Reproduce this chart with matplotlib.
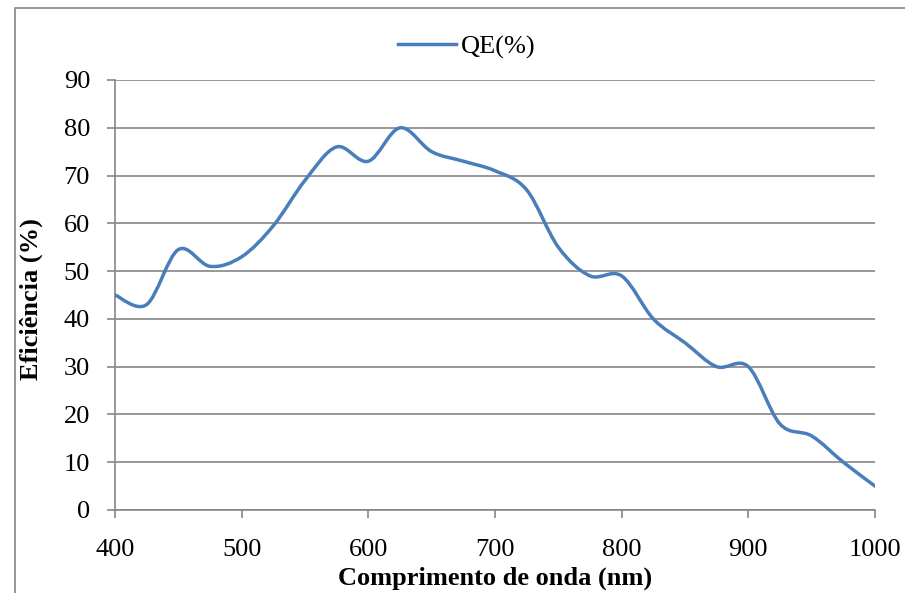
import numpy as np
import matplotlib
matplotlib.use("Agg")
import matplotlib.pyplot as plt
from matplotlib.path import Path
from matplotlib.patches import PathPatch, Rectangle
from matplotlib.lines import Line2D

wavelength = [400, 425, 450, 475, 500, 525, 550, 575, 600, 625, 650, 675, 700,
              725, 750, 775, 800, 825, 850, 875, 900, 925, 950, 975, 1000]
qe = [45, 43, 54.5, 51, 53, 59.5, 69, 76, 73, 80, 75, 73, 71,
      67, 55, 49, 49, 40, 35, 30, 30, 18, 15.5, 10, 5]
series_name = "QE(%)"
xlabel = "Comprimento de onda (nm)"
ylabel = "Eficiência (%)"
xticks = [400, 500, 600, 700, 800, 900, 1000]
yticks = list(range(0, 91, 10))

plt.rcParams['font.family'] = ['Liberation Serif', 'DejaVu Serif']

W, H = 905, 593
fig = plt.figure(figsize=(W / 100, H / 100), dpi=100)
ax = fig.add_axes([115 / W, 1 - 510 / H, (875 - 115) / W, (510 - 80) / H])

color = '#4A7EBB'
grid_c = '#868686'

# Excel-like smoothed line: cubic Bezier with Catmull-Rom tangents
x = np.asarray(wavelength, float)
y = np.asarray(qe, float)
n = len(x)
verts = [(x[0], y[0])]
codes = [Path.MOVETO]
t = 1 / 6
for i in range(n - 1):
    p0 = (x[max(i - 1, 0)], y[max(i - 1, 0)])
    p1 = (x[i], y[i])
    p2 = (x[i + 1], y[i + 1])
    p3 = (x[min(i + 2, n - 1)], y[min(i + 2, n - 1)])
    c1 = (p1[0] + (p2[0] - p0[0]) * t, p1[1] + (p2[1] - p0[1]) * t)
    c2 = (p2[0] - (p3[0] - p1[0]) * t, p2[1] - (p3[1] - p1[1]) * t)
    verts += [c1, c2, p2]
    codes += [Path.CURVE4] * 3
patch = PathPatch(Path(verts, codes), facecolor='none', edgecolor=color,
                  linewidth=2.5, capstyle='round', joinstyle='round', zorder=3)
ax.add_patch(patch)

ax.set_xlim(400, 1000)
ax.set_ylim(0, 90)
ax.set_xticks(xticks)
ax.set_yticks(yticks)
ax.yaxis.grid(True, color=grid_c, linewidth=1.2)
ax.set_axisbelow(True)
for s in ['top', 'right']:
    ax.spines[s].set_visible(False)
for s in ['left', 'bottom']:
    ax.spines[s].set_color(grid_c)
    ax.spines[s].set_linewidth(1.2)
ax.tick_params(axis='both', colors=grid_c, length=6, width=1.2, direction='out',
               labelcolor='black', labelsize=19)
ax.tick_params(axis='x', pad=15)
ax.tick_params(axis='y', pad=12)

ax.set_xlabel(xlabel, fontsize=19, fontweight='bold')
ax.set_ylabel(ylabel, fontsize=19, fontweight='bold')
ax.xaxis.set_label_coords(0.5, -(578 - 510) / 430)
ax.xaxis.label.set_verticalalignment('center')
ax.yaxis.set_label_coords((31 - 115) / 760, (510 - 299) / 430)
ax.yaxis.label.set_verticalalignment('center')

handle = Line2D([], [], color=color, linewidth=2.5)
leg = fig.legend([handle], [series_name], loc='center', bbox_to_anchor=(467 / W, 1 - 47 / H),
                 frameon=False, fontsize=19, handlelength=2.2, handletextpad=0.2)

# outer chart frame
fig.patches.append(Rectangle((15 / W, -0.05), 1.0, 1 - 8 / H + 0.05, transform=fig.transFigure,
                             fill=False, edgecolor=grid_c, linewidth=1.2))

fig.savefig('out.png', dpi=100)
